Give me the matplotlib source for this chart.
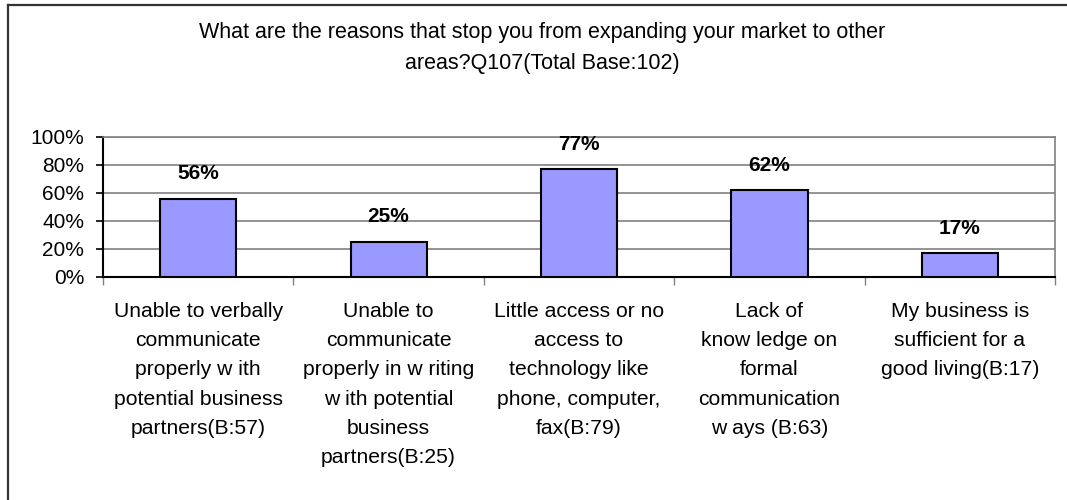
import matplotlib.pyplot as plt
from matplotlib.lines import Line2D
from matplotlib.ticker import FixedLocator, PercentFormatter

plt.rcParams['font.family'] = ['Liberation Sans', 'DejaVu Sans']

title = ("What are the reasons that stop you from expanding your market to other\n"
         "areas?Q107(Total Base:102)")
categories = [
    "Unable to verbally\ncommunicate\nproperly w ith\npotential business\npartners(B:57)",
    "Unable to\ncommunicate\nproperly in w riting\nw ith potential\nbusiness\npartners(B:25)",
    "Little access or no\naccess to\ntechnology like\nphone, computer,\nfax(B:79)",
    "Lack of\nknow ledge on\nformal\ncommunication\nw ays (B:63)",
    "My business is\nsufficient for a\ngood living(B:17)",
]
values = [56, 25, 77, 62, 17]

fig = plt.figure(figsize=(10.67, 5), dpi=100)
ax = fig.add_axes([0.0965, 0.446, 0.8923, 0.28])

x = range(len(values))
bars = ax.bar(x, values, width=0.4, color='#9999FF', edgecolor='black', linewidth=1.5, zorder=3)
for b, v in zip(bars, values):
    ax.annotate(f"{v}%", (b.get_x() + b.get_width() / 2, v), xytext=(0, 18),
                textcoords='offset points', ha='center', va='center',
                fontsize=15, fontweight='bold', zorder=4)

ax.set_xlim(-0.5, len(values) - 0.5)
ax.set_ylim(0, 100)
ax.yaxis.set_major_locator(FixedLocator([0, 20, 40, 60, 80, 100]))
ax.yaxis.set_major_formatter(PercentFormatter(decimals=0))
ax.grid(axis='y', color='#808080', linewidth=1.2, zorder=0)

ax.set_xticks(list(x))
ax.set_xticklabels(categories, fontsize=15.2, linespacing=1.68, va='top')
ax.set_xticks([i - 0.5 for i in range(len(values) + 1)], minor=True)
ax.tick_params(axis='x', which='major', length=0, pad=18)
ax.tick_params(axis='x', which='minor', length=6, width=1, color='#808080', direction='out')
ax.tick_params(axis='y', labelsize=15, length=5, width=1.2, pad=8.5)

for side in ['top', 'right']:
    ax.spines[side].set_color('#808080')
    ax.spines[side].set_linewidth(1.2)
for side in ['left', 'bottom']:
    ax.spines[side].set_color('black')
    ax.spines[side].set_linewidth(1.5)

fig.text(0.508, 0.904, title, ha='center', va='center', fontsize=15.5, linespacing=1.6)

# chart frame, top and left edges
fig.lines.append(Line2D([8 / 1067, 1], [1 - 5 / 500, 1 - 5 / 500], transform=fig.transFigure,
                        color='#333333', linewidth=1.6))
fig.lines.append(Line2D([8 / 1067, 8 / 1067], [0, 1 - 5 / 500], transform=fig.transFigure,
                        color='#333333', linewidth=1.6))

fig.savefig('out.png', dpi=100)
